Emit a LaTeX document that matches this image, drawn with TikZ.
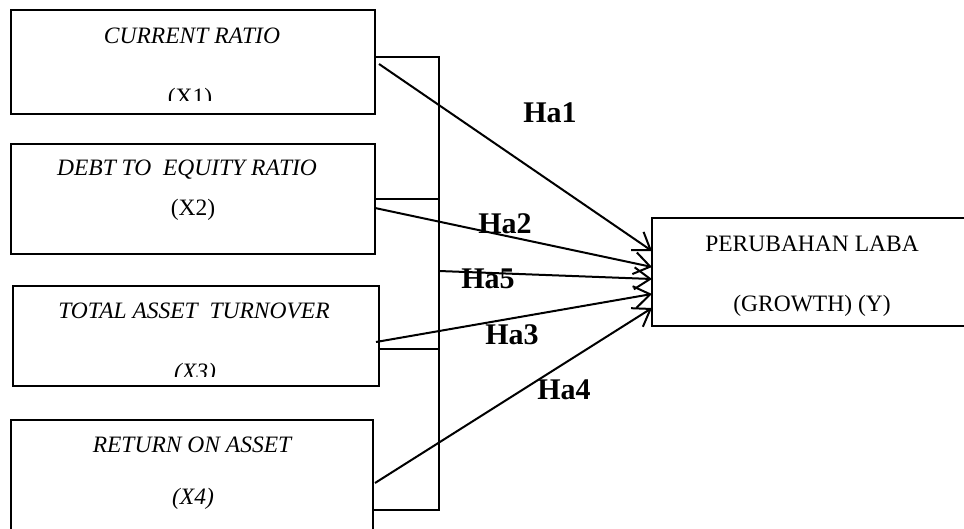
\documentclass[tikz,border=0pt]{standalone}
\usepackage{fontspec}
\setmainfont{Liberation Serif}
\usetikzlibrary{arrows.meta}

\begin{document}
\begin{tikzpicture}[x=1pt,y=-1pt,line width=2pt,
	box/.style={draw,rectangle,inner sep=0pt,outer sep=0pt},
	txt/.style={anchor=base,inner sep=0pt,font=\fontsize{23.5}{28}\selectfont},
	itxt/.style={txt,font=\fontsize{23.5}{28}\selectfont\itshape},
	hyp/.style={inner sep=0pt,font=\fontsize{30}{36}\selectfont\bfseries},
	arr/.style={-{Straight Barb[length=16pt,width=22pt]}}]
	\useasboundingbox (0,0) rectangle (964,529);
	\node[box,minimum width=364pt,minimum height=104pt] (x1) at (193,62) {};
	\node[box,minimum width=364pt,minimum height=110pt] (x2) at (193,199) {};
	\node[box,minimum width=366pt,minimum height=100pt] (x3) at (196,336) {};
	\node[box,minimum width=362pt,minimum height=120pt] (x4) at (192,480) {};
	\node[box,minimum width=320pt,minimum height=108pt] (y) at (812,272) {};
	\node[itxt] (t1) at (192,43.3) {CURRENT RATIO};
	\begin{scope}
		\clip (x1.north west) rectangle (375,101);
		\node[txt] (n1) at (190,104.5) {(X1)};
	\end{scope}
	\node[itxt] (t2) at (187,175.6) {DEBT TO\ \ EQUITY RATIO};
	\node[txt] (n2) at (193,216) {(X2)};
	\node[itxt] (t3) at (194,318.5) {TOTAL ASSET\ \ TURNOVER};
	\begin{scope}
		\clip (x3.north west) rectangle (379,376);
		\node[itxt] (n3) at (195,379) {(X3)};
	\end{scope}
	\node[itxt] (t4) at (192,452.5) {RETURN ON ASSET};
	\node[itxt] (n4) at (193,504) {(X4)};
	\node[txt] (ty) at (812,251.5) {PERUBAHAN LABA};
	\node[txt] (ny) at (812,312) {(GROWTH) (Y)};
	\coordinate (bt) at (439,57);
	\coordinate (bb) at (439,510);
	\coordinate (b3) at (439,349);
	\coordinate (b5) at (439,271);
	\draw (x1.east |- bt) -- (bt) -- (bb) -- (x4.east |- bb);
	\draw (x2.east) -- (x2.east -| bt);
	\draw (x3.east |- b3) -- (b3);
	\draw[arr] ([xshift=4pt,yshift=-2pt]x1.east) -- ([yshift=21pt]y.west);
	\draw[arr] ([yshift=-9pt]x2.east) -- ([yshift=5pt]y.west);
	\draw[arr] (b5) -- ([yshift=-7pt]y.west);
	\draw[arr] ([xshift=-3pt,yshift=-6pt]x3.east) -- ([yshift=-22pt]y.west);
	\draw[arr] ([xshift=2pt,yshift=-3pt]x4.east) -- ([yshift=-36pt]y.west);
	\node[hyp] (h1) at (550,113) {Ha1};
	\node[hyp] (h2) at (505,224) {Ha2};
	\node[hyp] (h5) at (488,279) {Ha5};
	\node[hyp] (h3) at (512,335) {Ha3};
	\node[hyp] (h4) at (564,390) {Ha4};
\end{tikzpicture}
\end{document}
